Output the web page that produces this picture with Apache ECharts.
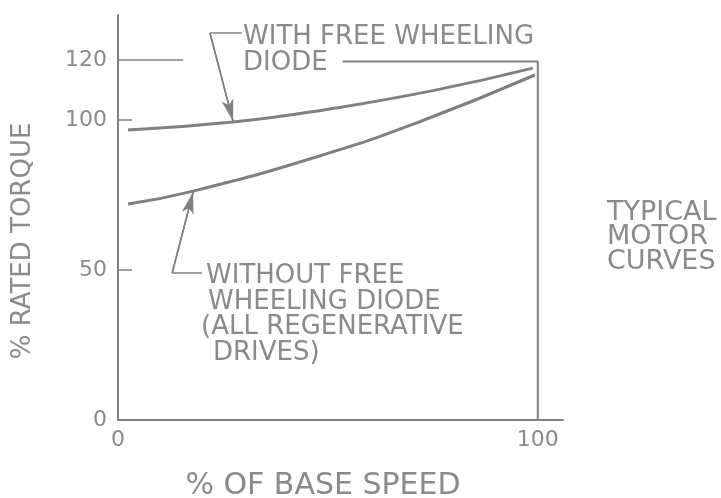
<!DOCTYPE html>
<html>
<head>
<meta charset="utf-8">
<script src="https://cdn.jsdelivr.net/npm/echarts@6/dist/echarts.min.js"></script>
<style>
  html, body { margin: 0; padding: 0; background: #fff; }
  #chart { width: 721px; height: 498px; }
</style>
</head>
<body>
<div id="chart"></div>
<script>
// % of base speed vs % rated torque
const withDiode = [[2.4, 96.7], [27.4, 99.3], [50, 103.6], [75, 109.8], [98.8, 117.3]];
const withoutDiode = [[2.4, 72], [17.9, 76.3], [48, 88], [72, 99.5], [99.3, 115]];
const yTicks = [0, 50, 100, 120];
const xTicks = [0, 100];
// frame line from "DIODE" over to 100% and down to the axis
const frameLine = [[53.5, 119.5], [100, 119.5], [100, 0]];
const ref120 = [[0, 120], [15.5, 120]];
// leader lines: [start, bend, arrow tip]
const leaderWith = [[29.5, 129], [21.9, 129], [27.4, 99.6]];
const leaderWithout = [[20, 49], [12.9, 49], [17.9, 76]];

const ink = '#808080';
const textInk = '#8a8a8a';
const font = 'DejaVu Sans';

const chart = echarts.init(document.getElementById('chart'), null, { renderer: 'canvas' });

function leader(pts) {
  return [
    { type: 'line', data: pts.slice(0, 2), symbol: 'none', silent: true, lineStyle: { color: ink, width: 1.5 } },
    {
      type: 'line', data: pts.slice(1), symbol: 'none', silent: true, lineStyle: { color: ink, width: 1.5 },
      markLine: {
        silent: true, symbol: ['none', 'arrow'], symbolSize: [9, 22], label: { show: false },
        lineStyle: { color: ink, width: 1.5, type: 'solid' },
        data: [[{ coord: pts[1] }, { coord: pts[2] }]]
      }
    }
  ];
}

function txt(x, y, s, size) {
  return {
    type: 'text', x: x, y: y, silent: true,
    style: { text: s, fill: textInk, fontSize: size || 26, fontFamily: font, verticalAlign: 'middle' }
  };
}

chart.setOption({
  backgroundColor: '#fff',
  animation: false,
  grid: { left: 118, right: 158, top: 15, bottom: 78 },
  xAxis: {
    type: 'value', min: 0, max: 106,
    axisLine: { lineStyle: { color: ink, width: 2 } },
    axisTick: { show: false },
    splitLine: { show: false },
    axisLabel: { customValues: xTicks, color: textInk, fontSize: 22, fontFamily: font, margin: 9 }
  },
  yAxis: {
    type: 'value', min: 0, max: 135,
    axisLine: { show: true, lineStyle: { color: ink, width: 2 } },
    axisTick: { show: true, inside: true, length: 14, customValues: [50, 100], lineStyle: { color: ink, width: 1.5 } },
    splitLine: { show: false },
    axisLabel: { customValues: yTicks, color: textInk, fontSize: 22, fontFamily: font, margin: 11 }
  },
  series: [
    { name: 'With free wheeling diode', type: 'line', smooth: true, symbol: 'none', data: withDiode, lineStyle: { color: ink, width: 3 } },
    { name: 'Without free wheeling diode', type: 'line', smooth: true, symbol: 'none', data: withoutDiode, lineStyle: { color: ink, width: 3 } },
    { type: 'line', data: frameLine, symbol: 'none', silent: true, lineStyle: { color: ink, width: 2 } },
    { type: 'line', data: ref120, symbol: 'none', silent: true, lineStyle: { color: ink, width: 1.5 } },
    ...leader(leaderWith),
    ...leader(leaderWithout)
  ],
  graphic: [
    txt(243, 37, 'WITH FREE WHEELING'),
    txt(243, 63, 'DIODE'),
    txt(206, 276, 'WITHOUT FREE'),
    txt(208, 302, 'WHEELING DIODE'),
    txt(201, 327, '(ALL REGENERATIVE'),
    txt(213, 353, 'DRIVES)'),
    txt(607, 213, 'TYPICAL', 27),
    txt(607, 237, 'MOTOR', 27),
    txt(607, 262, 'CURVES', 27),
    {
      type: 'text', x: 323, y: 486, silent: true,
      style: { text: '% OF BASE SPEED', fill: textInk, fontSize: 30, fontFamily: font, align: 'center', verticalAlign: 'middle' }
    },
    {
      type: 'text', x: 23, y: 241, rotation: Math.PI / 2, silent: true,
      style: { text: '% RATED TORQUE', fill: textInk, fontSize: 26, fontFamily: font, align: 'center', verticalAlign: 'middle' }
    }
  ]
});
</script>
</body>
</html>
